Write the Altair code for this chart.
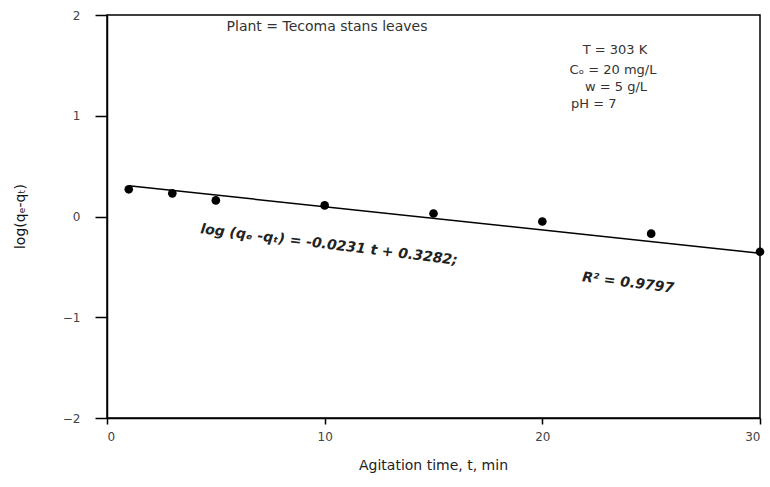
import altair as alt
import pandas as pd

# ---- data ----
time_min = [1, 3, 5, 10, 15, 20, 25, 30]
log_qe_qt = [0.27, 0.23, 0.16, 0.11, 0.03, -0.05, -0.17, -0.35]

# fitted line stated on the chart: log(qe-qt) = -0.0231 t + 0.3282
fit_slope = -0.0231
fit_intercept = 0.3282
fit_t = [1, 30]

x_ticks = [0, 10, 20, 30]
y_ticks = [-2, -1, 0, 1, 2]

title_text = "Plant = Tecoma stans leaves"
cond_text = ["T = 303 K", "C\u2092 = 20 mg/L", "w = 5 g/L", "pH = 7"]
eq_text = "log (q\u2091 -q\u209c) = -0.0231 t + 0.3282;"
r2_text = "R\u00b2 = 0.9797"

WFONT = "DejaVu Sans"

pts = pd.DataFrame({"t": time_min, "y": log_qe_qt})
fit = pd.DataFrame({"t": fit_t, "y": [fit_intercept + fit_slope * t for t in fit_t]})

x_scale = alt.Scale(domain=[0, 30], nice=False, zero=False)
y_scale = alt.Scale(domain=[-2, 2], nice=False, zero=False)

x_axis = alt.Axis(
    values=x_ticks, format="d", title="Agitation time, t, min", grid=False,
    tickSize=6, tickColor="black", tickWidth=1.5, domainColor="black", domainWidth=1.5,
    labelFont=WFONT, labelFontSize=12, labelColor="#444", labelPadding=7,
    titleFont=WFONT, titleFontSize=14, titleFontWeight="normal", titleColor="#222",
    titleX=326, titleY=47, titleBaseline="middle", titleAnchor="middle",
)
y_axis = alt.Axis(
    values=y_ticks, format="d", title="log(q\u2091-q\u209c)", grid=False,
    tickSize=12, tickColor="black", tickWidth=1.5, domainColor="black", domainWidth=1.5,
    labelFont=WFONT, labelFontSize=12, labelColor="#444", labelPadding=15,
    titleFont=WFONT, titleFontSize=14, titleFontWeight="normal", titleColor="#111",
    titleX=-87, titleY=201, titleAngle=-90, titleBaseline="middle", titleAlign="center",
)

points = alt.Chart(pts).mark_point(filled=True, color="black", size=75, opacity=1).encode(
    x=alt.X("t:Q", scale=x_scale, axis=x_axis),
    y=alt.Y("y:Q", scale=y_scale, axis=y_axis),
)

line = alt.Chart(fit).mark_line(color="black", strokeWidth=1.5).encode(
    x=alt.X("t:Q", scale=x_scale),
    y=alt.Y("y:Q", scale=y_scale),
)

def label(text, x, y, size=12, align="left", angle=0, italic=False, bold=False, color="#333"):
    return alt.Chart(pd.DataFrame({"s": [text]})).mark_text(
        font=WFONT, fontSize=size, align=align, baseline="middle", angle=angle,
        fontStyle="italic" if italic else "normal",
        fontWeight="bold" if bold else "normal", color=color,
    ).encode(text="s:N", x=alt.value(x), y=alt.value(y))

annots = [
    label(title_text, 220, 12, size=14, align="center"),
    label(cond_text[0], 508, 35, size=13, align="center"),
    label(cond_text[1], 506, 55, size=13, align="center"),
    label(cond_text[2], 509, 72, size=13, align="center"),
    label(cond_text[3], 464, 89, size=13, align="left"),
    label(eq_text, 222, 230, size=14, align="center", angle=7, italic=True, bold=True, color="#222"),
    label(r2_text, 521, 268, size=14, align="center", angle=7, italic=True, bold=True, color="#222"),
]

chart = alt.layer(line, points, *annots).properties(
    width=653, height=403,
    background="white",
    autosize=alt.AutoSizeParams(type="none"),
    padding={"left": 107, "top": 15, "right": 10, "bottom": 69},
).configure_view(stroke="black", strokeWidth=1.5)

chart.save("out.html", embed_options={"renderer": "svg", "actions": False})
